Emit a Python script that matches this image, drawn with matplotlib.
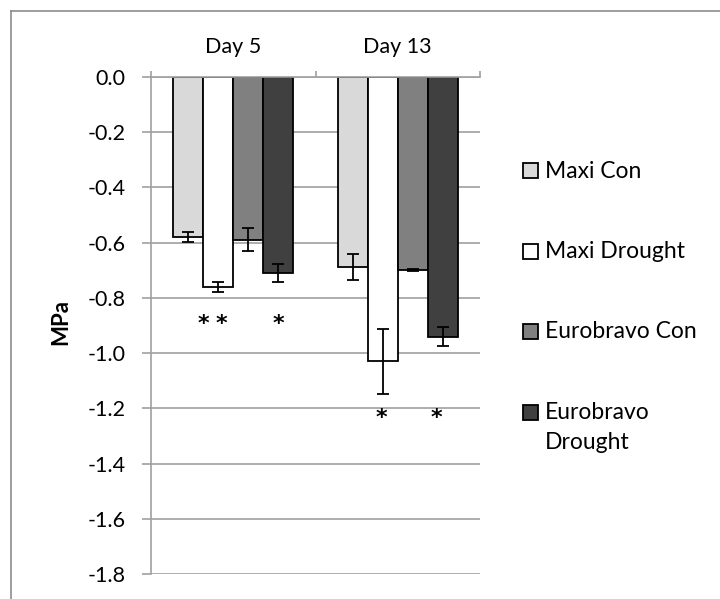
import matplotlib
matplotlib.use("Agg")
import matplotlib.pyplot as plt
import matplotlib.transforms as mtransforms
import numpy as np
from matplotlib.patches import Rectangle
from matplotlib.lines import Line2D

plt.rcParams['font.family'] = ['Lato', 'DejaVu Sans']

categories = ['Day 5', 'Day 13']
series_names = ['Maxi Con', 'Maxi Drought', 'Eurobravo Con', 'Eurobravo\nDrought']
maxi_con = [-0.58, -0.69]
maxi_con_err = [0.017, 0.047]
maxi_drought = [-0.76, -1.03]
maxi_drought_err = [0.019, 0.117]
euro_con = [-0.59, -0.70]
euro_con_err = [0.042, 0.003]
euro_drought = [-0.71, -0.94]
euro_drought_err = [0.033, 0.033]
y_ticks = [0.0, -0.2, -0.4, -0.6, -0.8, -1.0, -1.2, -1.4, -1.6, -1.8]
y_label = 'MPa'
# significance marks: (category index, series index, label)
sig_marks = [(0, 1, '*'), (0, 1, '*'), (0, 3, '*'), (1, 1, '*'), (1, 3, '*')]

values = [maxi_con, maxi_drought, euro_con, euro_drought]
errors = [maxi_con_err, maxi_drought_err, euro_con_err, euro_drought_err]
colors = ['#d9d9d9', '#ffffff', '#808080', '#404040']

W, H = 720, 599
fig = plt.figure(figsize=(7.2, 5.99), dpi=100)
ax = fig.add_axes([151 / W, 1 - 574.3 / H, (480 - 151) / W, (574.3 - 76.7) / H])

x = np.arange(len(categories))
bw = 30 / 165
for i, (vals, errs, c) in enumerate(zip(values, errors, colors)):
    xs = x + (i - 1.5) * bw
    ax.bar(xs, vals, width=bw, color=c, edgecolor='black', linewidth=1.3, zorder=3)
    ax.errorbar(xs, vals, yerr=errs, fmt='none', ecolor='black', elinewidth=1.3,
                capsize=4.5, capthick=1.3, zorder=4)

ax.set_xlim(-0.5, len(categories) - 0.5)
ax.set_ylim(-1.8, 0)
ax.set_yticks(y_ticks)
ax.set_yticklabels([f'{t:.1f}' for t in y_ticks], fontsize=15.5)
ax.yaxis.grid(True, color='#a0a0a0', linewidth=1.2, zorder=0)
ax.set_axisbelow(True)

ax.xaxis.tick_top()
ax.set_xticks(x)
ax.set_xticklabels(categories, fontsize=15.5)
ax.set_xticks(np.arange(len(categories) + 1) - 0.5, minor=True)
ax.tick_params(axis='x', which='major', length=0, pad=14)
ax.tick_params(axis='x', which='minor', length=4, width=1.2, color='#a0a0a0', top=True, bottom=False)
ax.tick_params(axis='y', length=6.5, width=1.2, color='#a0a0a0', pad=12, labelcolor='black')

for s in ['right', 'bottom']:
    ax.spines[s].set_visible(False)
for s in ['left', 'top']:
    ax.spines[s].set_color('#a0a0a0')
    ax.spines[s].set_linewidth(1.2)
ax.spines['top'].set_zorder(5)

ax.set_ylabel(y_label, fontsize=16, fontweight='bold', va='center', ha='center')
ax.yaxis.set_label_coords((61 - 151) / (480 - 151), 1 - (322 - 76.7) / (574.3 - 76.7))

# significance asterisks
day_y = [-0.875, -1.215]
shift = {(0, 1): [-0.092, 0.020], (0, 3): [0.003], (1, 1): [-0.009], (1, 3): [-0.035]}
used = {}
star_off = mtransforms.ScaledTranslation(0, -5 / 100, fig.dpi_scale_trans)
for ci, si, lab in sig_marks:
    k = (ci, si)
    n = used.get(k, 0)
    used[k] = n + 1
    xc = x[ci] + (si - 1.5) * bw + shift[k][n]
    ax.text(xc, day_y[ci], lab, ha='center', va='center', fontsize=16, fontweight='bold',
            family='DejaVu Sans', zorder=6, transform=ax.transData + star_off)

# legend (manual, in pixel space)
leg_y = [171, 251, 331, 412]
for name, c, yy in zip(series_names, colors, leg_y):
    fig.patches.append(Rectangle((523 / W, 1 - (yy + 7.5) / H), 15 / W, 15 / H,
                                 transform=fig.transFigure, facecolor=c,
                                 edgecolor='black', linewidth=1.3))
    fig.text(545 / W, 1 - (yy - 10) / H, name, ha='left', va='top', fontsize=16.5,
             linespacing=1.55)

# chart border
fig.add_artist(Line2D([10.5 / W, 10.5 / W], [0, 1 - 10.5 / H], color='#8c8c8c', linewidth=1.2,
                      transform=fig.transFigure))
fig.add_artist(Line2D([10.5 / W, 1], [1 - 10.5 / H, 1 - 10.5 / H], color='#8c8c8c', linewidth=1.2,
                      transform=fig.transFigure))

fig.savefig('out.png', dpi=100)
